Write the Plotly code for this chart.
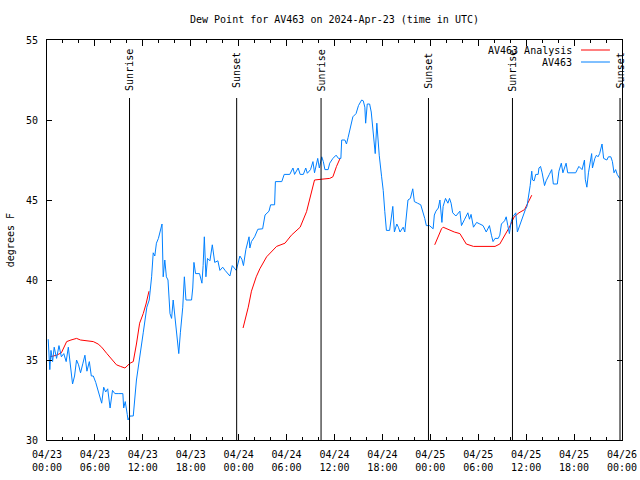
import plotly.graph_objects as go
import pandas as pd

BASE = pd.Timestamp("2024-04-23 00:00")

# AV463 observations: hours since 2024-04-23 00:00 UTC, dew point (F)
obs_hours = [
    0.15, 0.35, 0.5, 0.7, 0.9, 1.2, 1.5, 1.8, 2.1, 2.4, 2.67, 2.9, 3.2, 3.45, 3.7, 3.95,
    4.2, 4.5, 4.75, 5.0, 5.3, 5.55, 5.8, 6.1, 6.4, 6.6, 6.85, 7.1, 7.35, 7.6, 7.9, 8.2,
    8.5, 9.0, 9.5, 9.6, 9.8, 10.05, 10.15, 10.4, 10.8, 11.2, 11.65, 12.05, 12.5, 12.8,
    13.1, 13.3, 13.5, 13.7, 13.95, 14.2, 14.4, 14.55, 14.75, 14.95, 15.15, 15.4, 15.6,
    15.8, 16.0, 16.2, 16.5, 16.7, 17.0, 17.2, 17.4, 18.1, 18.25, 18.4, 18.6, 19.1, 19.4,
    19.55, 19.7, 19.9, 20.1, 20.4, 20.7, 21.0, 21.4, 21.65, 22.0, 22.3, 22.9, 23.2, 23.7,
    24.15, 24.4, 24.6, 24.9, 25.3, 25.4, 25.6, 26.0, 26.4, 27.0, 27.3, 27.8, 28.0, 28.5,
    28.6, 29.4, 29.7, 30.4, 30.8, 31.0, 31.45, 31.7, 32.1, 32.4, 32.6, 33.0, 33.3, 33.5,
    33.9, 34.1, 34.4, 34.6, 34.8, 35.2, 35.4, 35.8, 36.2, 36.5, 36.8, 36.9, 37.3, 37.5,
    37.7, 37.9, 38.3, 38.7, 39.0, 39.4, 39.6, 39.8, 39.9, 40.1, 40.4, 40.6, 40.8, 41.1,
    41.3, 41.45, 41.6, 41.9, 42.1, 42.3, 42.5, 42.9, 43.1, 43.3, 43.5, 43.8, 44.0, 44.2,
    44.6, 44.8, 45.2, 45.5, 45.8, 46.0, 46.4, 46.8, 47.3, 47.5, 47.9, 48.35, 48.5, 48.7,
    49.0, 49.2, 49.45, 49.6, 49.9, 50.2, 50.4, 50.6, 50.8, 51.2, 51.7, 51.9, 52.3, 52.7,
    52.9, 53.1, 53.4, 53.8, 54.2, 54.6, 55.0, 55.4, 55.65, 55.85, 56.1, 56.5, 56.7, 56.9,
    57.3, 57.5, 57.7, 57.9, 58.1, 58.3, 58.5, 58.7, 58.9, 59.1, 59.5, 59.9, 60.1, 60.3,
    60.5, 60.7, 60.8, 61.0, 61.2, 61.5, 61.6, 61.8, 62.0, 62.3, 62.5, 62.9, 63.2, 63.4,
    63.9, 64.1, 64.4, 64.6, 65.0, 65.2, 66.2, 66.4, 66.6, 67.0, 67.3, 67.4, 67.6, 67.8,
    68.2, 68.3, 68.6, 68.8, 69.0, 69.2, 69.5, 69.7, 70.1, 70.3, 70.6, 70.8, 71.0, 71.2,
    71.4, 71.7,
]
obs_dewpt = [
    36.3, 34.4, 35.6, 34.9, 35.8, 35.1, 35.9, 35.2, 35.4, 34.9, 35.8, 34.6, 33.5, 34.0, 35.0, 34.7,
    34.2, 34.8, 35.3, 34.3, 34.9, 34.0, 34.0, 33.6, 33.1, 32.7, 32.3, 33.3, 33.0, 33.2, 32.0, 33.1,
    32.9, 32.9, 32.9, 32.0, 32.4, 31.6, 31.25, 31.5, 31.5, 33.75, 35.5, 36.7, 38.3, 38.75,
    40.2, 41.7, 41.5, 42.3, 42.6, 43.2, 43.5, 40.2, 41.25, 40.2, 40.0, 37.9, 37.6,
    38.75, 37.9, 36.7, 35.4, 36.7, 38.3, 40.2, 38.75, 38.75, 39.5, 41.1, 40.4, 40.4, 39.8,
    40.9, 42.7, 40.2, 41.35, 41.2, 42.2, 41.1, 41.2, 40.6, 40.8, 40.6, 40.25, 40.9, 40.6,
    41.5, 41.3, 40.9, 41.9, 42.7, 42.0, 42.4, 42.7, 43.17, 43.2, 44.06, 44.3, 44.7, 44.7,
    46.15, 46.15, 46.6, 46.6, 47.0, 46.6, 47.0, 46.6, 46.6, 47.0, 46.67, 46.9, 47.4, 46.7,
    47.6, 47.0, 47.7, 47.4, 46.9, 46.9, 47.3, 47.6, 47.8, 47.6, 47.6, 48.75, 48.75, 48.5,
    48.9, 49.4, 50.2, 50.4, 50.9, 51.25, 51.2, 50.8, 49.8, 51.0, 51.0, 50.5, 49.4, 47.9,
    49.8, 48.6, 47.8, 46.45, 45.6, 44.27, 43.1, 43.1, 44.06, 44.6, 43.0, 43.5, 43.3, 43.0,
    43.3, 43.0, 45.0, 45.1, 45.7, 44.9, 44.8, 44.7, 43.85, 43.4, 43.4, 43.2, 44.06, 44.3,
    44.5, 45.0, 43.6, 44.6, 45.1, 44.8, 45.1, 44.8, 44.2, 44.0, 44.3, 43.4, 43.8, 44.2,
    43.8, 44.1, 43.3, 43.6, 43.5, 43.4, 43.0, 43.4, 42.8, 42.4, 42.6, 42.6, 42.8, 43.5,
    43.7, 43.95, 43.4, 42.9, 43.6, 43.95, 44.06, 44.2, 43.0, 43.3, 43.85, 44.4, 44.6, 45.2,
    45.9, 46.8, 46.25, 46.2, 46.6, 46.6, 47.0, 47.1, 46.7, 45.9, 46.2, 46.6, 46.9, 46.0,
    46.0, 46.8, 47.3, 46.7, 47.3, 46.7, 46.7, 46.9, 47.1, 46.9, 47.5, 46.3, 45.8, 46.7,
    47.9, 47.0, 47.6, 47.8, 47.7, 47.9, 48.5, 47.6, 47.5, 47.7, 47.7, 47.4, 46.7, 46.9,
    46.6, 46.35,
]

# AV463 Analysis (None = gap)
ana_hours = [
    0.375, 0.8, 1.2, 1.8, 2.1, 2.46, 3.0, 3.7, 4.2, 4.9, 5.8, 6.4, 6.85, 7.5, 8.0, 8.7,
    9.2, 9.76, 10.4, 10.8, 11.2, 11.6, 12.05, 12.4, 12.77,
    18.0,
    24.55, 25.2, 25.6, 26.2, 26.65, 27.5, 28.75, 29.8, 30.6, 31.7, 32.5, 32.9, 33.2, 33.5,
    34.4, 35.4, 35.8, 36.25, 36.7,
    42.0,
    48.55, 48.9, 49.4, 49.6, 50.4, 51.0, 51.7, 52.1, 52.5, 53.4, 55.0, 56.1, 56.7, 57.1,
    57.5, 57.9, 58.5, 59.1, 59.8, 60.2, 60.7,
]
ana_dewpt = [
    35.2, 35.25, 35.3, 35.45, 35.8, 36.15, 36.25, 36.35, 36.25, 36.2, 36.15, 36.0, 35.8, 35.4, 35.1, 34.7,
    34.6, 34.5, 34.8, 34.9, 36.0, 37.3, 37.9, 38.5, 39.3,
    None,
    37.0, 38.3, 39.3, 40.2, 40.7, 41.45, 42.1, 42.3, 42.8, 43.3, 44.27, 45.0, 45.6, 46.25,
    46.3, 46.35, 46.45, 47.1, 47.6,
    None,
    42.2, 42.6, 43.2, 43.3, 43.1, 43.0, 42.9, 42.6, 42.25, 42.1, 42.1, 42.1, 42.25, 42.6,
    43.0, 43.3, 43.95, 44.2, 44.4, 44.8, 45.3,
]

sun_labels = ["Sunrise", "Sunset", "Sunrise", "Sunset", "Sunrise", "Sunset"]
sun_times = ["2024-04-23 10:20", "2024-04-23 23:45", "2024-04-24 10:19",
             "2024-04-24 23:46", "2024-04-25 10:17", "2024-04-25 23:45"]

obs_t = BASE + pd.to_timedelta(obs_hours, unit="h")
ana_t = BASE + pd.to_timedelta(ana_hours, unit="h")

BLUE = "#0080ff"
RED = "#ff0000"
FONT = "DejaVu Sans Mono"

fig = go.Figure()
fig.add_trace(go.Scatter(x=ana_t, y=ana_dewpt, mode="lines", name="AV463 Analysis",
                         line=dict(color=RED, width=1), connectgaps=False))
fig.add_trace(go.Scatter(x=obs_t, y=obs_dewpt, mode="lines", name="AV463",
                         line=dict(color=BLUE, width=1)))

for lab, t in zip(sun_labels, sun_times):
    fig.add_shape(type="line", x0=t, x1=t, xref="x", yref="paper", y0=0, y1=0.855,
                  line=dict(color="black", width=1))
    fig.add_annotation(x=t, xref="x", yref="paper", y=0.924, text=lab, textangle=-90,
                       showarrow=False, xanchor="center", yanchor="middle",
                       font=dict(family=FONT, size=10, color="black"))

# legend (gnuplot style: text then sample line)
leg = [("AV463 Analysis", RED, 0.975), ("AV463", BLUE, 0.945)]
for txt, col, yy in leg:
    fig.add_annotation(x=0.9165, y=yy, xref="paper", yref="paper", text=txt,
                       showarrow=False, xanchor="right", yanchor="middle",
                       font=dict(family=FONT, size=10, color="black"))
    fig.add_shape(type="line", xref="paper", yref="paper", x0=0.9287, x1=0.979,
                  y0=yy, y1=yy, line=dict(color=col, width=1))

fig.add_annotation(x=-0.064, y=0.5, xref="paper", yref="paper", text="degrees F",
                   textangle=-90, showarrow=False, xanchor="center", yanchor="middle",
                   font=dict(family=FONT, size=10, color="black"))

fig.update_layout(
    width=640, height=480,
    margin=dict(l=47, r=18, t=40, b=40, autoexpand=False),
    paper_bgcolor="white", plot_bgcolor="white",
    showlegend=False,
    font=dict(family=FONT, size=10, color="black"),
    title=dict(text="Dew Point for AV463 on 2024-Apr-23 (time in UTC)",
               x=0.5, xref="paper", xanchor="center", y=0.96, yanchor="middle",
               font=dict(family=FONT, size=10, color="black")),
)
fig.update_xaxes(
    type="date", range=["2024-04-23 00:00", "2024-04-26 00:00"],
    tick0="2024-04-23 00:00", dtick=6 * 3600 * 1000, tickformat="%m/%d<br>%H:%M",
    ticks="inside", ticklen=6, tickcolor="black", showline=True, linecolor="black",
    linewidth=1, mirror="ticks", showgrid=False, zeroline=False, automargin=False,
    ticklabelstandoff=5,
    minor=dict(dtick=2 * 3600 * 1000, ticks="inside", ticklen=3, tickcolor="black",
               showgrid=False),
    tickfont=dict(family=FONT, size=10, color="black"),
)
fig.update_yaxes(
    range=[30, 55], dtick=5, ticks="inside", ticklen=5, tickcolor="black",
    showline=True, linecolor="black", linewidth=1, mirror="ticks", showgrid=False,
    zeroline=False, ticklabelstandoff=6, automargin=False,
    tickfont=dict(family=FONT, size=10, color="black"),
)

fig.write_html("out.html", config={"displayModeBar": False, "staticPlot": True},
               post_script="document.body.style.margin='0';document.body.style.padding='0';")
